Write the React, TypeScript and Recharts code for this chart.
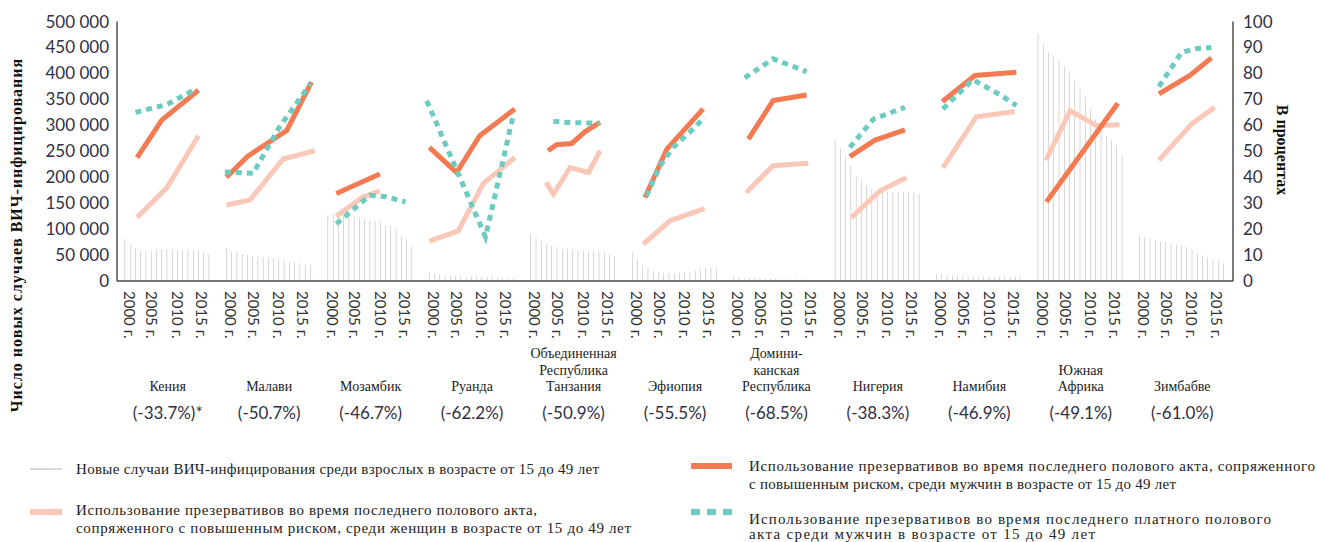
import { ComposedChart, Bar, Line, XAxis, YAxis } from 'recharts'

const countries = [
  'Кения',
  'Малави',
  'Мозамбик',
  'Руанда',
  'Объединенная\nРеспублика\nТанзания',
  'Эфиопия',
  'Домини-\nканская\nРеспублика',
  'Нигерия',
  'Намибия',
  'Южная\nАфрика',
  'Зимбабве',
]
const changes = [
  '(-33.7%)*', '(-50.7%)', '(-46.7%)', '(-62.2%)', '(-50.9%)', '(-55.5%)',
  '(-68.5%)', '(-38.3%)', '(-46.9%)', '(-49.1%)', '(-61.0%)',
]
const years = [2000, 2001, 2002, 2003, 2004, 2005, 2006, 2007, 2008, 2009, 2010, 2011, 2012, 2013, 2014, 2015, 2016]
const yearLabels = ['2000 г.', '2005 г.', '2010 г.', '2015 г.']
const casesTicks = [0, 50000, 100000, 150000, 200000, 250000, 300000, 350000, 400000, 450000, 500000]
const pctTicks = [0, 10, 20, 30, 40, 50, 60, 70, 80, 90, 100]

// новые случаи, 2000-2016
const newInfections = [
  [81000, 70000, 63000, 58000, 58000, 59000, 60000, 61000, 61000, 61000, 60000, 60000, 60000, 59000, 59000, 56000, 53000],
  [63000, 58000, 55000, 52000, 50000, 48000, 47000, 46000, 45000, 44000, 42000, 40000, 36000, 35000, 34000, 32000, 31000],
  [126000, 131000, 127000, 126000, 125000, 125000, 122000, 120000, 117000, 115000, 114000, 108000, 107000, 100000, 86000, 80000, 67000],
  [16000, 14000, 12500, 11000, 10000, 9000, 8500, 7000, 8000, 8000, 7500, 7500, 7500, 7000, 7000, 6500, 6000],
  [91000, 83000, 77000, 71000, 68000, 65000, 62000, 61000, 60000, 59000, 58000, 58000, 58000, 57000, 55000, 51000, 48000],
  [55000, 42000, 32000, 26000, 19000, 17000, 15000, 15000, 15000, 16000, 17000, 17000, 20000, 22000, 25000, 26000, 24500],
  [7500, 7000, 6300, 5500, 5000, 4800, 4600, 4400, 4200, 3800, 3500, 3300, 3200, 3000, 2800, 2600, 2400],
  [274000, 256000, 240000, 222000, 202000, 193000, 185000, 177000, 174000, 173000, 173000, 172000, 171000, 170000, 170000, 170000, 169000],
  [14000, 13500, 12000, 11000, 10500, 10000, 9500, 9000, 8500, 8500, 8000, 8000, 8000, 7800, 7600, 7500, 7400],
  [476000, 456000, 441000, 433000, 425000, 413000, 401000, 386000, 371000, 355000, 331000, 311000, 295000, 280000, 270000, 261000, 242000],
  [89000, 84000, 81000, 78000, 76500, 75000, 73000, 71000, 69000, 66000, 60000, 54000, 49000, 45000, 43000, 41000, 34000],
]

// [год, %]
const womenUse: number[][][] = [
  [[2002.3, 24.5], [2008, 36], [2014, 56]],
  [[2000, 29.3], [2004.5, 31.2], [2010.8, 47], [2016.8, 50.2]],
  [[2001.6, 25], [2006.7, 32.4], [2009.9, 34.7]],
  [[2000, 15.4], [2005.5, 19.3], [2010.3, 37.6], [2016.3, 47.6]],
  [[2002.9, 38], [2004.3, 33.5], [2007.5, 43.7], [2011, 41.8], [2013.2, 50.2]],
  [[2002.1, 14.2], [2007.2, 23.2], [2013.8, 27.9]],
  [[2002.4, 34.1], [2007.5, 44.4], [2014.2, 45.4]],
  [[2003.1, 24.4], [2008.5, 34.7], [2013.6, 39.9]],
  [[2001.2, 43.7], [2007.6, 63.3], [2014.9, 65.3]],
  [[2001.5, 46.6], [2006.1, 65.6], [2011.2, 59.8], [2015.5, 60.2]],
  [[2003.7, 46.6], [2009.9, 60.5], [2014.3, 66.9]],
]
const menUse: number[][][] = [
  [[2002.3, 47.5], [2007, 62], [2014, 73.5]],
  [[2000, 40], [2004, 48], [2011.5, 58], [2016.2, 76.6]],
  [[2001.6, 33.7], [2009.9, 41.2]],
  [[2000, 51.5], [2005.2, 41.8], [2009.6, 56], [2016.3, 66.3]],
  [[2003.3, 50.2], [2004.9, 52.5], [2007.8, 53], [2010.3, 57.5], [2013.2, 61.1]],
  [[2002.4, 32.2], [2006.6, 50.8], [2013.5, 66.3]],
  [[2002.8, 54.7], [2007.5, 69.5], [2013.9, 71.7]],
  [[2002.8, 47.9], [2007.6, 54.3], [2013.3, 58.2]],
  [[2001.1, 69.2], [2007.3, 79.2], [2015.2, 80.4]],
  [[2001.6, 30.5], [2008.4, 49.5], [2015.2, 68.5]],
  [[2003.7, 72.1], [2009.6, 79.2], [2013.7, 86]],
]
const paidUse: number[][][] = [
  [[2002, 65], [2008, 68], [2013.5, 74]],
  [[1999.7, 42], [2005.1, 41.5], [2010, 59], [2016, 76]],
  [[2001.6, 22], [2008, 33], [2011, 32.5], [2014.8, 30.5]],
  [[1999.5, 69.5], [2010.7, 17], [2016, 64]],
  [[2004.3, 61.5], [2008, 61], [2013.2, 60.8]],
  [[2002.7, 32.8], [2005.3, 44.4], [2007.8, 51.5], [2011.6, 58.6], [2013.8, 63.1]],
  [[2002.1, 78.3], [2007.5, 85.6], [2013.9, 80.7]],
  [[2002.8, 51.5], [2007.3, 62.4], [2013.3, 66.9]],
  [[2001.2, 66.3], [2006.9, 77.6], [2012.4, 71.4], [2015.2, 67.6]],
  [],
  [[2003.7, 74.9], [2008, 88.1], [2010.8, 89.5], [2013.7, 90]],
]

const PANEL = 19.33
const LEAD = 1.52
const TOTAL = PANEL * countries.length
const YEAR_LABEL_POS = [2.4, 6.75, 11.6, 16.2]

const px = (i: number, year: number) => i * PANEL + LEAD + (year - 2000)

const barRows = newInfections.flatMap((vals, i) =>
  vals.map((v, k) => ({ x: px(i, years[k]), cases: v }))
)
const toPoints = (pts: number[][], i: number) => pts.map(([yr, v]) => ({ x: px(i, yr), v }))

const sepTicks = [...countries.map((_, i) => i * PANEL), TOTAL]
const yearTicks = countries.flatMap((_, i) => YEAR_LABEL_POS.map((o) => i * PANEL + o))
const countryTicks = countries.map((_, i) => i * PANEL + PANEL / 2)

const TXT = '#2f2f45'
const fmt = (v: number) => String(v).replace(/\B(?=(\d{3})+(?!\d))/g, ' ')

const YearTick = (props: any) => {
  const { x, y, index } = props
  return (
    <text
      transform={`translate(${x},${y + 8}) rotate(90)`}
      dominantBaseline="central"
      fontSize={15}
      fontFamily="Lato"
      fill="#333"
    >
      {yearLabels[index % 4]}
    </text>
  )
}

const CountryTick = (props: any) => {
  const { x, y, index } = props
  const lines = countries[index].split('\n')
  const base = y + 109
  return (
    <g>
      <text textAnchor="middle" fontSize={14} fontFamily="Liberation Serif" fill="#222">
        {lines.map((l, k) => (
          <tspan key={k} x={x} y={base - (lines.length - 1 - k) * 16.5}>
            {l}
          </tspan>
        ))}
      </text>
      <text x={x} y={y + 137} textAnchor="middle" fontSize={17} fontFamily="Lato" fill={TXT}>
        {changes[index]}
      </text>
    </g>
  )
}

export default function App() {
  return (
    <div style={{ position: 'absolute', left: 0, top: 0, width: 1317, height: 542, background: '#fff' }}>
      <ComposedChart
        width={1317}
        height={542}
        data={barRows}
        margin={{ top: 21.5, right: 0, bottom: 258, left: 0 }}
      >
        <XAxis
          xAxisId={0}
          dataKey="x"
          type="number"
          domain={[0, TOTAL]}
          allowDataOverflow
          ticks={sepTicks}
          interval={0}
          height={1}
          tick={false}
          tickSize={136}
          tickLine={{ stroke: '#555', strokeWidth: 1.3 }}
          axisLine={{ stroke: '#444', strokeWidth: 1.3 }}
        />
        <XAxis
          xAxisId="yr"
          dataKey="x"
          type="number"
          domain={[0, TOTAL]}
          allowDataOverflow
          ticks={yearTicks}
          interval={0}
          height={1}
          tickSize={0}
          tickMargin={0}
          tickLine={false}
          axisLine={false}
          tick={<YearTick />}
        />
        <XAxis
          xAxisId="ctry"
          dataKey="x"
          type="number"
          domain={[0, TOTAL]}
          allowDataOverflow
          ticks={countryTicks}
          interval={0}
          height={1}
          tickSize={0}
          tickMargin={0}
          tickLine={false}
          axisLine={false}
          tick={<CountryTick />}
        />
        <YAxis
          yAxisId={0}
          width={117}
          domain={[0, 500000]}
          allowDataOverflow
          ticks={casesTicks}
          interval={0}
          tickFormatter={fmt}
          tickSize={0}
          tickMargin={8}
          tickLine={false}
          axisLine={{ stroke: '#333', strokeWidth: 1.3 }}
          tick={{ fontSize: 17, fontFamily: 'Lato', fill: TXT }}
        />
        <YAxis
          yAxisId="pct"
          orientation="right"
          width={84}
          domain={[0, 100]}
          allowDataOverflow
          ticks={pctTicks}
          interval={0}
          tickSize={0}
          tickMargin={10}
          tickLine={false}
          axisLine={{ stroke: '#333', strokeWidth: 1.3 }}
          tick={{ fontSize: 17, fontFamily: 'Lato', fill: TXT }}
        />
        <Bar dataKey="cases" barSize={1.2} fill="#b3a9a4" isAnimationActive={false} />
        {womenUse.map((pts, i) => (
          <Line
            key={'w' + i}
            yAxisId="pct"
            data={toPoints(pts, i)}
            dataKey="v"
            type="linear"
            stroke="#fac8b9"
            strokeWidth={5}
            dot={false}
            activeDot={false}
            isAnimationActive={false}
          />
        ))}
        {menUse.map((pts, i) => (
          <Line
            key={'m' + i}
            yAxisId="pct"
            data={toPoints(pts, i)}
            dataKey="v"
            type="linear"
            stroke="#f47a51"
            strokeWidth={5}
            dot={false}
            activeDot={false}
            isAnimationActive={false}
          />
        ))}
        {paidUse.map((pts, i) =>
          pts.length ? (
            <Line
              key={'p' + i}
              yAxisId="pct"
              data={toPoints(pts, i)}
              dataKey="v"
              type="linear"
              stroke="#6dcbbf"
              strokeWidth={5}
              strokeDasharray="6 5"
              dot={false}
              activeDot={false}
              isAnimationActive={false}
            />
          ) : null
        )}
      </ComposedChart>
      <svg width={1317} height={542} style={{ position: 'absolute', left: 0, top: 0, pointerEvents: 'none' }}>
        <text
          transform="translate(16,235) rotate(-90)"
          textAnchor="middle"
          dominantBaseline="central"
          fontFamily="Liberation Serif"
          fontWeight="bold"
          fontSize={16}
          letterSpacing={1}
          fill="#111"
        >
          Число новых случаев ВИЧ-инфицирования
        </text>
        <text
          transform="translate(1282,150) rotate(90)"
          textAnchor="middle"
          dominantBaseline="central"
          fontFamily="Liberation Serif"
          fontWeight="bold"
          fontSize={16}
          fill="#111"
        >
          В процентах
        </text>
        <g fontFamily="Liberation Serif" fontSize={15} fill="#222" dominantBaseline="central">
          <line x1={30} x2={62} y1={469} y2={469} stroke="#cfc8c4" strokeWidth={1.5} />
          <text x={76} y={469} textLength={523}>Новые случаи ВИЧ-инфицирования  среди взрослых в возрасте от 15 до 49 лет</text>
          <line x1={30} x2={62} y1={512} y2={512} stroke="#fac8b9" strokeWidth={6} />
          <text x={76} y={510} textLength={461}>Использование презервативов во время последнего полового акта,</text>
          <text x={76} y={528} textLength={555}>сопряженного с повышенным риском, среди женщин в возрасте от 15 до 49 лет</text>
          <line x1={691} x2={732} y1={466} y2={466} stroke="#f47a51" strokeWidth={6} />
          <text x={749} y={466} textLength={566}>Использование презервативов во время последнего полового акта, сопряженного</text>
          <text x={749} y={484} textLength={427}>с повышенным риском, среди мужчин в возрасте от 15 до 49 лет</text>
          <line x1={691} x2={732} y1={512} y2={512} stroke="#6dcbbf" strokeWidth={6} strokeDasharray="9 7" />
          <text x={749} y={519} textLength={522}>Использование презервативов во время последнего платного  полового</text>
          <text x={749} y={534} textLength={346}>акта среди мужчин в возрасте от 15 до 49 лет</text>
        </g>
      </svg>
    </div>
  )
}
